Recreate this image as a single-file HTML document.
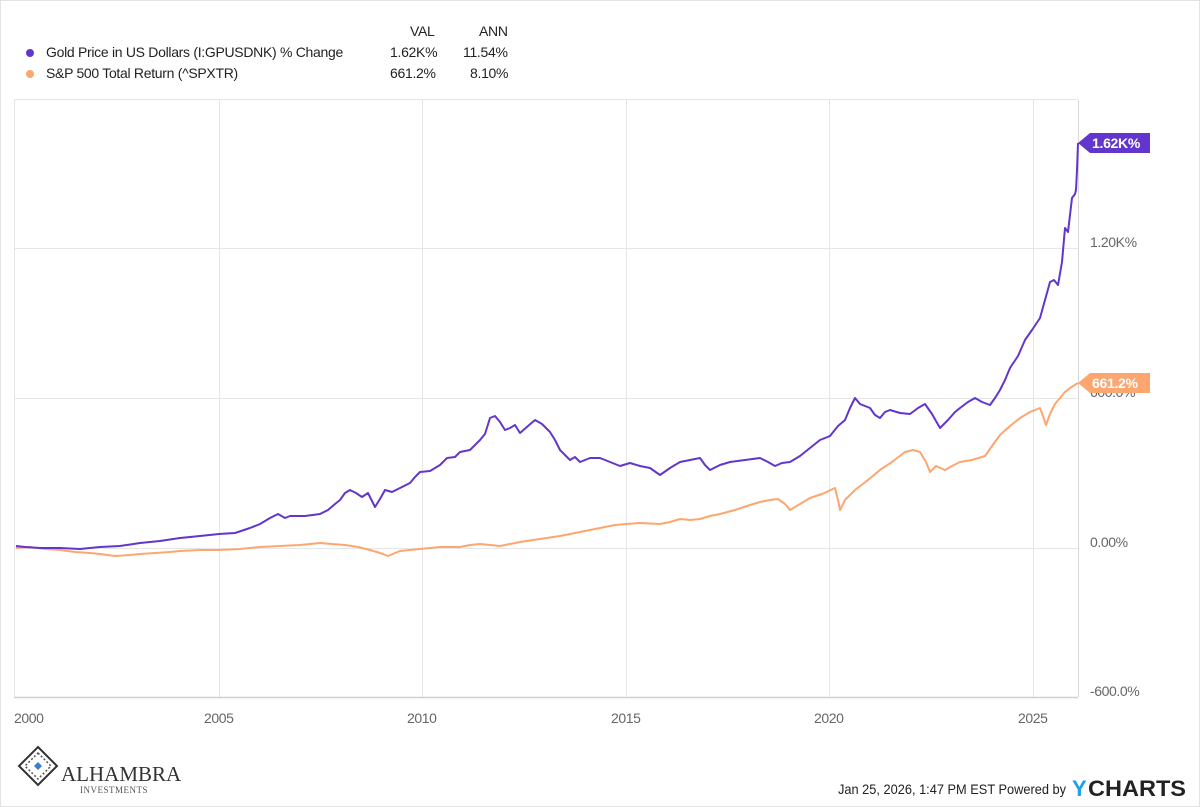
<!DOCTYPE html>
<html><head><meta charset="utf-8"><style>
html,body{margin:0;padding:0;background:#fff;}
body{width:1200px;height:807px;position:relative;overflow:hidden;font-family:"Liberation Sans",sans-serif;}
.frame{position:absolute;left:0;top:0;width:1198px;height:805px;border:1px solid #e3e3e3;}
.t{position:absolute;font-size:14px;color:#222;white-space:nowrap;letter-spacing:-0.3px;}
</style></head><body>
<div class="frame"></div>
<div class="t" style="left:410px;top:23px">VAL</div>
<div class="t" style="left:479px;top:23px">ANN</div>
<div style="position:absolute;left:26px;top:49px;width:8px;height:8px;border-radius:50%;background:#6236cc"></div>
<div style="position:absolute;left:26px;top:70px;width:8px;height:8px;border-radius:50%;background:#fea66f"></div>
<div class="t" style="left:46px;top:44px">Gold Price in US Dollars (I:GPUSDNK) % Change</div>
<div class="t" style="left:46px;top:65px">S&amp;P 500 Total Return (^SPXTR)</div>
<div class="t" style="left:390px;top:44px">1.62K%</div>
<div class="t" style="left:463px;top:44px">11.54%</div>
<div class="t" style="left:390px;top:65px">661.2%</div>
<div class="t" style="left:470px;top:65px">8.10%</div>
<svg width="1200" height="807" style="position:absolute;left:0;top:0">
<g stroke="#e6e6e6" stroke-width="1">
<line x1="14.5" y1="99" x2="14.5" y2="697"/>
<line x1="14" y1="99.5" x2="1078" y2="99.5"/>
<line x1="219.5" y1="100" x2="219.5" y2="697"/>
<line x1="422.5" y1="100" x2="422.5" y2="697"/>
<line x1="626.5" y1="100" x2="626.5" y2="697"/>
<line x1="829.5" y1="100" x2="829.5" y2="697"/>
<line x1="1033.5" y1="100" x2="1033.5" y2="697"/>
<line x1="14" y1="248.5" x2="1078" y2="248.5"/>
<line x1="14" y1="398.5" x2="1078" y2="398.5"/>
<line x1="14" y1="548.5" x2="1078" y2="548.5"/>
</g>
<line x1="1078.5" y1="100" x2="1078.5" y2="697" stroke="#d8d8d8"/>
<line x1="14" y1="697.5" x2="1078" y2="697.5" stroke="#d0d0d0" stroke-width="1.5"/>
<g font-size="14" fill="#666" font-family="Liberation Sans,sans-serif" letter-spacing="-0.4">
<text x="1090" y="247">1.20K%</text>
<text x="1090" y="397">600.0%</text>
<text x="1090" y="547">0.00%</text>
<text x="1090" y="696">-600.0%</text>
<text x="14" y="723">2000</text>
<text x="204" y="723">2005</text>
<text x="407" y="723">2010</text>
<text x="611" y="723">2015</text>
<text x="814" y="723">2020</text>
<text x="1018" y="723">2025</text>
</g>
<polyline fill="none" stroke="#fea66f" stroke-width="2" stroke-linejoin="round" points="16,548 30,547 45,549 60,550 75,552 90,553 100,554 115,556 130,555 140,554 155,553 170,552 180,551 200,550 219,550 240,549 260,547 280,546 300,545 310,544 320,543 332,544 345,545 358,547 370,550 380,553 388,556 395,553 400,551 410,550 420,549 430,548 440,547 450,547 460,547 470,545 480,544 490,545 500,546 510,544 520,542 540,539 560,536 580,532 600,528 615,525 626,524 640,523 660,524 670,522 680,519 690,520 700,519 710,516 720,514 735,510 750,505 760,502 770,500 778,499 785,504 790,510 800,504 810,498 822,494 835,488 838,500 840,510 845,500 855,490 868,480 880,470 892,462 905,452 913,450 920,452 926,462 930,472 936,466 945,470 952,466 960,462 972,460 985,456 992,446 1000,435 1010,426 1020,418 1030,412 1040,408 1043,416 1046,425 1050,414 1055,404 1060,398 1065,392 1070,388 1078,383"/>
<polyline fill="none" stroke="#6236cc" stroke-width="2" stroke-linejoin="round" points="16,546 25,547 40,548 60,548 80,549 100,547 120,546 140,543 160,541 180,538 200,536 219,534 235,533 250,528 260,524 270,518 278,514 285,518 290,516 305,516 320,514 328,510 335,504 340,500 345,493 350,490 356,493 362,497 368,493 375,507 380,499 385,490 392,492 400,488 410,483 415,477 420,472 430,471 440,465 447,458 455,457 460,452 470,450 480,440 485,434 490,418 495,416 500,422 505,430 510,428 515,425 520,433 528,426 535,420 542,424 550,432 555,440 560,450 565,455 570,460 575,457 580,462 590,458 600,458 610,462 620,466 630,463 640,466 650,468 660,475 670,468 680,462 690,460 700,458 705,465 710,470 720,465 730,462 745,460 760,458 768,462 775,466 782,463 790,462 800,456 810,448 820,440 830,436 838,426 845,420 850,408 855,398 860,404 870,408 875,415 880,418 885,412 890,410 900,413 910,414 918,408 925,404 932,414 940,428 948,420 955,412 960,408 968,402 975,398 982,402 990,405 995,398 1000,390 1005,380 1010,368 1018,356 1025,340 1032,330 1040,318 1045,300 1050,282 1054,280 1058,285 1062,262 1065,228 1068,232 1072,198 1075,194 1076,190 1077,170 1078,143"/>
<path d="M1078,143 L1090,133 L1150,133 L1150,153 L1090,153 Z" fill="#6236cc"/>
<text x="1092" y="148" font-size="14" font-weight="bold" fill="#fff" font-family="Liberation Sans,sans-serif" letter-spacing="-0.3">1.62K%</text>
<path d="M1078,383 L1090,373 L1150,373 L1150,393 L1090,393 Z" fill="#fea66f"/>
<text x="1092" y="388" font-size="14" font-weight="bold" fill="#fff" font-family="Liberation Sans,sans-serif" letter-spacing="-0.3">661.2%</text>
<g transform="translate(38,772)">
<path d="M0,-25 L19,-6 L0,13 L-19,-6 Z" fill="none" stroke="#333" stroke-width="2"/>
<path d="M0,-19 L13,-6 L0,7 L-13,-6 Z" fill="none" stroke="#555" stroke-width="1.5" stroke-dasharray="2,2"/>
<path d="M0,-10 L4,-6 L0,-2 L-4,-6 Z" fill="#3a7bd5"/>
</g>
<text x="61" y="781" font-size="21" fill="#333" font-family="Liberation Serif,serif">ALHAMBRA</text>
<text x="80" y="793" font-size="9" fill="#555" font-family="Liberation Serif,serif" letter-spacing="0.5">INVESTMENTS</text>
<text x="838" y="794" font-size="14" fill="#222" font-family="Liberation Sans,sans-serif" textLength="228" lengthAdjust="spacingAndGlyphs">Jan 25, 2026, 1:47 PM EST Powered by</text>
<text x="1072" y="796" font-size="22" font-weight="bold" fill="#1aa3e8" font-family="Liberation Sans,sans-serif">Y</text>
<text x="1088" y="796" font-size="22" font-weight="bold" fill="#222" font-family="Liberation Sans,sans-serif" textLength="98" lengthAdjust="spacingAndGlyphs">CHARTS</text>
</svg>
</body></html>
